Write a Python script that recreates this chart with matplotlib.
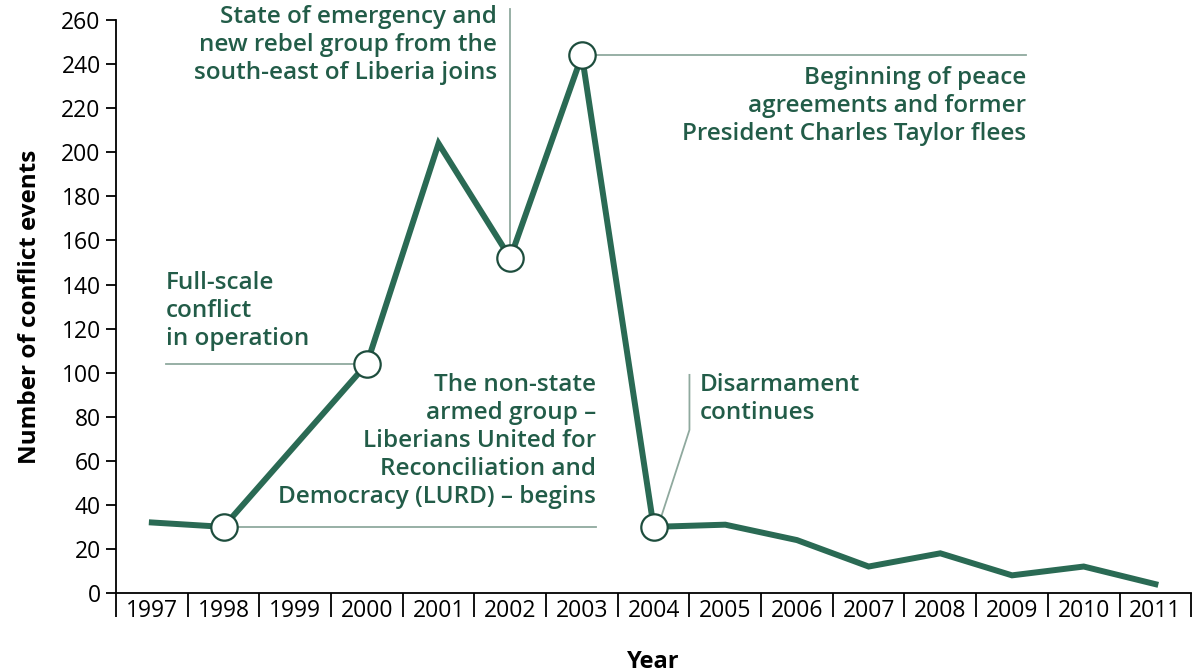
import numpy as np
import matplotlib.pyplot as plt
from matplotlib.ticker import FixedLocator, NullFormatter

plt.rcParams['font.family'] = ['Open Sans', 'DejaVu Sans']

# Data
years = ['1997', '1998', '1999', '2000', '2001', '2002', '2003', '2004',
         '2005', '2006', '2007', '2008', '2009', '2010', '2011']
events = [32, 30, 67, 104, 204, 152, 244, 30, 31, 24, 12, 18, 8, 12, 4]

# years that get a ringed marker
marked = ['1998', '2000', '2002', '2003', '2004']

line_col = '#2a6a54'
text_col = '#225c48'
note_col = '#8fa99e'

fig = plt.figure(figsize=(11.96, 6.72), dpi=100)
ax = fig.add_axes([0.097, 0.1176, 0.899, 0.8524])

x = np.arange(len(years))
ax.plot(x, events, color=line_col, lw=4.3, solid_joinstyle='miter', zorder=3)

idx = [years.index(y) for y in marked]
mx = x[idx]
my = [events[i] for i in idx]
ax.plot(mx, my, 'o', ms=19, mfc='white', mec='#1d4d3d', mew=1.6, zorder=4)

ax.set_xlim(-0.5, len(years) - 0.5)
ax.set_ylim(0, 260)
ax.set_yticks(range(0, 261, 20))
ax.tick_params(axis='y', labelsize=16.5, length=7, width=1.3, pad=4)

ax.set_xticks(x)
ax.set_xticklabels(years)
ax.tick_params(axis='x', which='major', length=0, labelsize=16.5, pad=4)
ax.xaxis.set_minor_locator(FixedLocator(np.arange(-0.5, len(years), 1)))
ax.xaxis.set_minor_formatter(NullFormatter())
ax.tick_params(axis='x', which='minor', length=17, width=1.3)

for s in ['top', 'right']:
    ax.spines[s].set_visible(False)
ax.spines['left'].set_linewidth(1.3)
ax.spines['bottom'].set_linewidth(1.3)

ax.set_xlabel('Year', fontsize=17, fontweight='bold', labelpad=20)
ax.set_ylabel('Number of conflict events', fontsize=17.5, fontweight='bold', labelpad=14)

tkw = dict(color=text_col, fontsize=17.5, fontweight='semibold', linespacing=1.22)
nkw = dict(color=note_col, lw=1.3, zorder=2)

# Full-scale conflict (2000)
ax.plot([0.2, 3 - 0.19], [104, 104], **nkw)
ax.text(0.2, 110, 'Full-scale\nconflict\nin operation', ha='left', va='bottom', **tkw)

# State of emergency (2002)
ax.plot([5, 5], [157.5, 265], clip_on=False, **nkw)
ax.text(4.82, 267, 'State of emergency and\nnew rebel group from the\nsouth-east of Liberia joins',
        ha='right', va='top', **tkw)

# Peace agreements (2003)
ax.plot([6 + 0.19, 12.2], [244, 244], **nkw)
ax.text(12.2, 239, 'Beginning of peace\nagreements and former\nPresident Charles Taylor flees',
        ha='right', va='top', **tkw)

# LURD begins (1998)
ax.plot([1 + 0.19, 6.2], [30, 30], **nkw)
ax.text(6.2, 100, 'The non-state\narmed group \u2013\nLiberians United for\nReconciliation and\nDemocracy (LURD) \u2013 begins',
        ha='right', va='top', **tkw)

# Disarmament (2004)
ax.plot([7.1, 7.5, 7.5], [34, 74, 99], **nkw)
ax.text(7.65, 100, 'Disarmament\ncontinues', ha='left', va='top', **tkw)

fig.savefig('out.png', dpi=100)
